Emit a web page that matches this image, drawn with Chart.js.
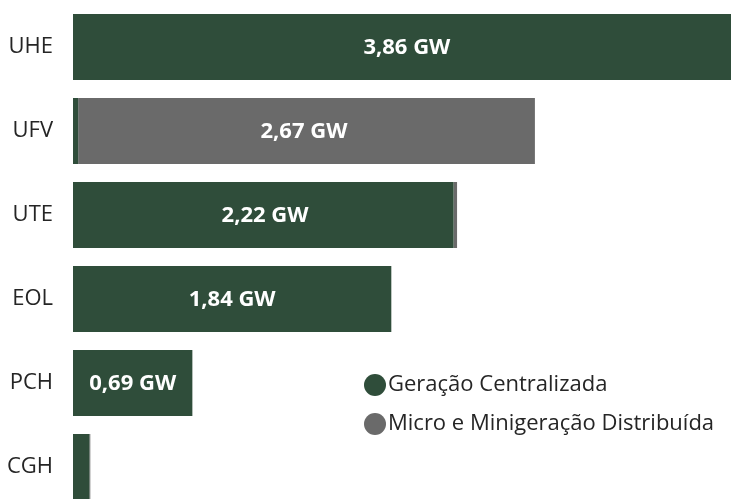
<!DOCTYPE html>
<html lang="pt-BR">
<head>
<meta charset="utf-8">
<title>Capacidade por fonte</title>
<script src="https://cdn.jsdelivr.net/npm/chart.js@4.4.1/dist/chart.umd.min.js"></script>
<style>
    html, body { margin: 0; padding: 0; background: #ffffff; overflow: hidden; }
    #wrap { position: relative; width: 765px; height: 509px; }
</style>
</head>
<body>
<div id="wrap"><canvas id="capChart"></canvas></div>
<script>
// Data (GW)
const categories = ['UHE', 'UFV', 'UTE', 'EOL', 'PCH', 'CGH'];
const centralizada = [3.86, 0.03, 2.20, 1.84, 0.69, 0.095];
const distribuida = [0, 2.64, 0.02, 0, 0, 0.005];
const seriesNames = ['Geração Centralizada', 'Micro e Minigeração Distribuída'];

const GREEN = '#2F4D3A';
const GRAY = '#6A6A6A';
const FONT = '"Open Sans", "Noto Sans", sans-serif';

// Total label centered on each bar (skipped for tiny bars)
const totalLabels = {
    id: 'totalLabels',
    afterDatasetsDraw(chart) {
        const ctx = chart.ctx;
        const xs = chart.scales.x;
        const metaA = chart.getDatasetMeta(0);
        ctx.save();
        ctx.font = 'bold 22px ' + FONT;
        ctx.fillStyle = '#ffffff';
        ctx.textAlign = 'center';
        ctx.textBaseline = 'middle';
        categories.forEach((c, i) => {
            const total = centralizada[i] + distribuida[i];
            if (total < 0.3) return;
            const x0 = xs.getPixelForValue(0);
            const x1 = xs.getPixelForValue(total);
            const y = metaA.data[i].y;
            ctx.fillText(total.toFixed(2).replace('.', ',') + ' GW', (x0 + x1) / 2, y + 1);
        });
        ctx.restore();
    }
};

// Legend drawn inside the plot, lower right
const innerLegend = {
    id: 'innerLegend',
    afterDraw(chart) {
        const ctx = chart.ctx;
        ctx.save();
        ctx.font = '22px ' + FONT;
        ctx.textBaseline = 'middle';
        ctx.textAlign = 'left';
        chart.data.datasets.forEach((ds, i) => {
            const y = 385 + i * 39;
            ctx.fillStyle = ds.backgroundColor;
            ctx.beginPath();
            ctx.arc(375, y, 11, 0, Math.PI * 2);
            ctx.fill();
            ctx.fillStyle = '#252525';
            ctx.fillText(ds.label, 388, y);
        });
        ctx.restore();
    }
};

new Chart(document.getElementById('capChart').getContext('2d'), {
    type: 'bar',
    data: {
        labels: categories,
        datasets: [{
            label: seriesNames[0],
            data: centralizada,
            backgroundColor: GREEN,
            borderWidth: 0,
            categoryPercentage: 1,
            barPercentage: 0.786
        }, {
            label: seriesNames[1],
            data: distribuida,
            backgroundColor: GRAY,
            borderWidth: 0,
            categoryPercentage: 1,
            barPercentage: 0.786
        }]
    },
    options: {
        indexAxis: 'y',
        responsive: true,
        maintainAspectRatio: false,
        animation: false,
        layout: { padding: { top: 5, right: 0, bottom: 0, left: 0 }, autoPadding: false },
        plugins: {
            legend: { display: false },
            tooltip: { enabled: false }
        },
        scales: {
            x: {
                stacked: true,
                display: false,
                min: 0,
                max: 4
            },
            y: {
                stacked: true,
                grid: { display: false, drawTicks: false },
                border: { display: false },
                ticks: {
                    color: '#252525',
                    padding: 20,
                    font: { family: FONT, size: 22 }
                },
                afterFit(scale) {
                    scale.width = 73;
                    // no extra room above/below for the labels
                    scale.paddingTop = 0;
                    scale.paddingBottom = 0;
                }
            }
        }
    },
    plugins: [totalLabels, innerLegend]
});
</script>
</body>
</html>
